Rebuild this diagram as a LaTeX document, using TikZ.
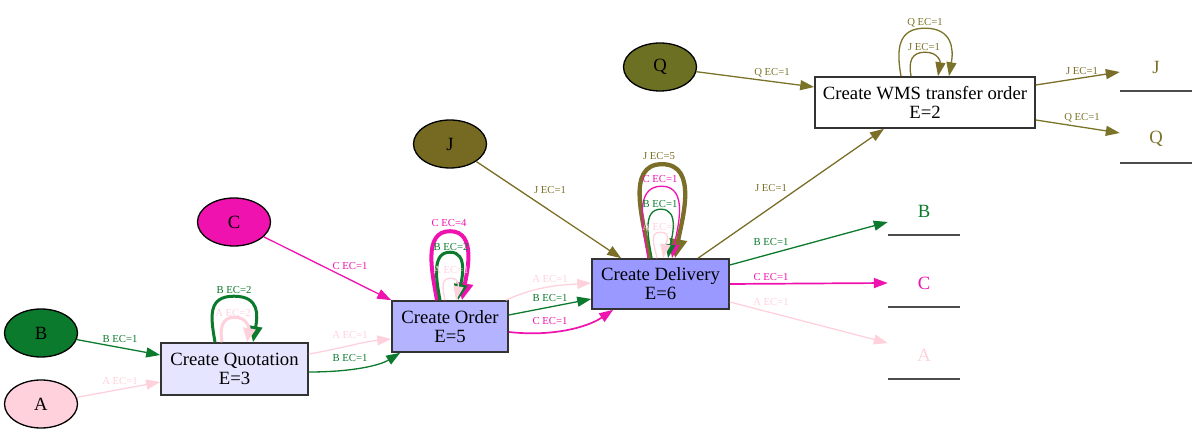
\documentclass[tikz,border=0pt]{standalone}
\usepackage{fontspec}
\setmainfont{Liberation Serif}
\usetikzlibrary{arrows.meta,shapes.geometric,calc}
\definecolor{cB}{HTML}{0C7A2C}
\definecolor{cA}{HTML}{FFD1DC}
\definecolor{cC}{HTML}{F012AF}
\definecolor{cJ}{HTML}{766A22}
\definecolor{cQ}{HTML}{6C7023}
\definecolor{cJe}{HTML}{7A6E28}
\definecolor{cQe}{HTML}{7A7428}
\definecolor{fQuo}{HTML}{E5E5FF}
\definecolor{fOrd}{HTML}{B3B3FF}
\definecolor{fDel}{HTML}{9999FF}
\tikzset{
  obj/.style={ellipse, draw=black, line width=1.3pt, minimum width=73pt, minimum height=48pt, inner sep=0pt, font=\fontsize{18.7}{20}\selectfont},
  act/.style={rectangle, draw=black!80, line width=1.6pt, inner sep=0pt, align=center, font=\fontsize{18.7}{19}\selectfont},
  sink/.style={rectangle, minimum width=72pt, minimum height=48pt, inner sep=0pt, font=\fontsize{18.7}{20}\selectfont},
  sinkline/.style={draw=black!70, line width=1.5pt},
  elab/.style={font=\fontsize{10.7}{11}\selectfont, inner sep=0pt},
  flow/.style={line width=1.3pt, -{Triangle[length=14pt,width=10pt]}},
  fat/.style={line width=3pt, -{Triangle[length=16pt,width=13pt]}},
  fatter/.style={line width=4.3pt, -{Triangle[length=19pt,width=17pt]}},
  upl/.style={out=100,in=180,looseness=1.2},
  dnr/.style={out=0,in=80,looseness=1.2}
}
\begin{document}
\begin{tikzpicture}[x=1pt,y=-1pt]
\useasboundingbox (0,0) rectangle (1197,435);
% objects
\node[obj, fill=cB] (nB) at (41,333) {B};
\node[obj, fill=cA] (nA) at (41,404) {A};
\node[obj, fill=cC] (nC) at (234,222) {C};
\node[obj, fill=cJ] (nJ) at (450,144) {J};
\node[obj, fill=cQ] (nQ) at (660,67) {Q};
% activities
\node[act, fill=fQuo, minimum width=147pt, minimum height=52pt] (q) at (234.5,369) {Create Quotation\\E=3};
\node[act, fill=fOrd, minimum width=116pt, minimum height=51pt] (o) at (450,326.5) {Create Order\\E=5};
\node[act, fill=fDel, minimum width=137pt, minimum height=50pt] (d) at (660.5,284) {Create Delivery\\E=6};
\node[act, fill=white, minimum width=220pt, minimum height=51pt] (w) at (925,102.5) {Create WMS transfer order\\E=2};
% sinks
\node[sink, text=cJe] (eJ) at (1156,67) {J};
\node[sink, text=cQe] (eQ) at (1156,139) {Q};
\node[sink, text=cB] (eB) at (924,211) {B};
\node[sink, text=cC] (eC) at (924,283) {C};
\node[sink, text=cA] (eA) at (924,355) {A};
\foreach \s in {eJ,eQ,eB,eC,eA} \draw[sinkline] (\s.south west) -- (\s.south east);
% edges into quotation
\draw[flow,cB] (nB) -- ($(q.west)+(0,-14)$);
\node[elab,text=cB] (l1) at (120,339) {B EC=1};
\draw[flow,cA] (nA) -- ($(q.west)+(0,13)$);
\node[elab,text=cA] (l2) at (120,381) {A EC=1};
% quotation loops
\draw[fat,cB] ($(q.north)+(-19.5,0)$) to[upl,looseness=1.35] ($(q.north)+(-0.5,-46)$) to[dnr,looseness=1.35] ($(q.north)+(18.5,0)$);
\node[elab,text=cB] (l3) at (234,290) {B EC=2};
\draw[fat,cA,-{Triangle[length=14pt,width=12pt]}] ($(q.north)+(-12.5,0)$) to[upl] ($(q.north)+(0,-25)$) to[dnr] ($(q.north)+(12.5,0)$);
\node[elab,text=cA] (l4) at (233,313) {A EC=2};
% quotation -> order
\draw[flow,cA] ($(q.east)+(0,-15)$) .. controls +(30,-5) and +(-30,3) .. ($(o.west)+(0,12.5)$);
\node[elab,text=cA] (l5) at (350,335) {A EC=1};
\draw[flow,cB] ($(q.east)+(0,3)$) .. controls +(42,0) and +(-21,13) .. ($(o.south west)+(9,0)$);
\node[elab,text=cB] (l6) at (350,358) {B EC=1};
\draw[flow,cC] (nC) -- (o.north west);
\node[elab,text=cC] (l7) at (350,266) {C EC=1};
% order loops
\draw[cC,line width=4pt,-{Triangle[length=17pt,width=16pt]}] ($(o.north)+(-13,0)$) to[upl,looseness=1] ($(o.north)+(0,-69)$) to[dnr,looseness=1] ($(o.north)+(12,0)$);
\node[elab,text=cC] (l8) at (449,223) {C EC=4};
\draw[fat,cB] ($(o.north)+(-10,0)$) to[upl,looseness=1] ($(o.north)+(0,-48)$) to[dnr,looseness=1] ($(o.north)+(8,0)$);
\node[elab,text=cB] (l9) at (451,247) {B EC=2};
\draw[flow,cA] ($(o.north)+(-5,0)$) to[upl] ($(o.north)+(0.5,-22)$) to[dnr] ($(o.north)+(6,0)$);
\node[elab,text=cA] (l10) at (451,270) {A EC=1};
% order -> delivery
\draw[flow,cA] ($(o.north east)+(-3,0)$) .. controls +(30,-14) and +(-30,2) .. ($(d.west)+(0,-1)$);
\node[elab,text=cA] (l11) at (550,279) {A EC=1};
\draw[flow,cB] ($(o.east)+(0,-11.5)$) -- ($(d.west)+(0,15)$);
\node[elab,text=cB] (l12) at (550,298) {B EC=1};
\draw[flow,cC,line width=1.7pt] ($(o.east)+(0,5.5)$) .. controls +(45,5) and +(-25,17) .. ($(d.south west)+(22,0)$);
\node[elab,text=cC] (l13) at (550,321) {C EC=1};
\draw[flow,cJe] (nJ) -- ($(d.north west)+(30,0)$);
\node[elab,text=cJe] (l14) at (550,190) {J EC=1};
% delivery loops
\draw[fatter,cJe] ($(d.north)+(-10.5,0)$) to[upl,looseness=1] ($(d.north)+(1.5,-94)$) to[dnr,looseness=1] ($(d.north)+(14.5,0)$);
\node[elab,text=cJe] (l15) at (659,156) {J EC=5};
\draw[flow,cC] ($(d.north)+(-12.5,0)$) to[upl,looseness=1] ($(d.north)+(1,-72)$) to[dnr,looseness=1] ($(d.north)+(11.5,0)$);
\node[elab,text=cC] (l16) at (660,179) {C EC=1};
\draw[flow,cB] ($(d.north)+(-8.5,0)$) to[upl,looseness=1] ($(d.north)+(0.5,-49)$) to[dnr,looseness=1] ($(d.north)+(7.5,0)$);
\node[elab,text=cB] (l17) at (660,204) {B EC=1};
\draw[flow,cA] ($(d.north)+(-3.5,0)$) to[upl] ($(d.north)+(0,-26)$) to[dnr] ($(d.north)+(2.5,0)$);
\node[elab,text=cA] (l18) at (660,227) {A EC=1};
% delivery -> out
\draw[flow,cJe] ($(d.north)+(37.5,0)$) -- ($(w.south)+(-41,0)$);
\node[elab,text=cJe] (l19) at (771,188) {J EC=1};
\draw[flow,cB] ($(d.east)+(0,-19)$) -- ($(eB.west)+(0,11)$);
\node[elab,text=cB] (l20) at (771,242) {B EC=1};
\draw[flow,cC,line width=1.7pt] (d.east) -- (eC.west);
\node[elab,text=cC] (l21) at (771,277) {C EC=1};
\draw[flow,cA] ($(d.east)+(0,18)$) -- ($(eA.west)+(0,-12)$);
\node[elab,text=cA] (l22) at (771,302) {A EC=1};
% WMS
\draw[flow,cQe] (nQ) -- ($(w.west)+(0,-15.5)$);
\node[elab,text=cQe] (l23) at (772,73) {Q EC=1};
\draw[flow,cQe] ($(w.north)+(-24,0)$) to[upl,looseness=1.3] ($(w.north)+(0,-48)$) to[dnr,looseness=1.3] ($(w.north)+(24,0)$);
\node[elab,text=cQe] (l24) at (925,23) {Q EC=1};
\draw[flow,cJe] ($(w.north)+(-14,0)$) to[upl,looseness=1.3] ($(w.north)+(0,-24)$) to[dnr,looseness=1.3] ($(w.north)+(13,0)$);
\node[elab,text=cJe] (l25) at (924,47) {J EC=1};
\draw[flow,cJe] ($(w.east)+(0,-17.5)$) -- ($(eJ.west)+(0,5)$);
\node[elab,text=cJe] (l26) at (1082,71) {J EC=1};
\draw[flow,cQe] ($(w.east)+(0,17.5)$) -- ($(eQ.west)+(0,-6)$);
\node[elab,text=cQe] (l27) at (1082,118) {Q EC=1};
\end{tikzpicture}
\end{document}
